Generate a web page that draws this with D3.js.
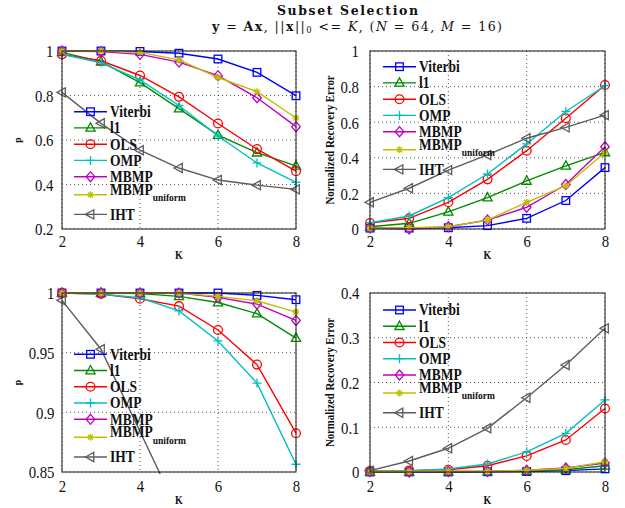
<!DOCTYPE html>
<html><head><meta charset="utf-8">
<script src="https://cdn.jsdelivr.net/npm/d3@7"></script>
<style>body{margin:0;background:#fff}svg{display:block}</style>
</head><body>
<svg id="c" width="625" height="508"></svg>
<script>
// ---------------- data ----------------
const K = [2, 3, 4, 5, 6, 7, 8];
const seriesNames = ["Viterbi", "l1", "OLS", "OMP", "MBMP", "MBMP|uniform", "IHT"];
const xTicks = [2, 4, 6, 8];

// (top-left) success probability p
const viterbiP1 = [1.0, 1.0, 0.998, 0.99, 0.964, 0.904, 0.799];
const l1P1      = [0.994, 0.952, 0.858, 0.741, 0.622, 0.543, 0.484];
const olsP1     = [0.985, 0.956, 0.890, 0.794, 0.674, 0.559, 0.460];
const ompP1     = [0.985, 0.947, 0.870, 0.755, 0.618, 0.497, 0.410];
const mbmpP1    = [1.0, 0.997, 0.985, 0.950, 0.889, 0.790, 0.660];
const mbmpuP1   = [1.0, 1.0, 0.994, 0.960, 0.881, 0.817, 0.699];
const ihtP1     = [0.814, 0.675, 0.554, 0.474, 0.420, 0.397, 0.378];
const yTicksP1 = [0.2, 0.4, 0.6, 0.8, 1];
const yTickLabelsP1 = ["0.2", "0.4", "0.6", "0.8", "1"];

// (top-right) normalized recovery error
const viterbiE1 = [0.005, 0.005, 0.007, 0.019, 0.060, 0.160, 0.345];
const l1E1      = [0.013, 0.032, 0.096, 0.176, 0.270, 0.355, 0.430];
const olsE1     = [0.034, 0.060, 0.150, 0.279, 0.440, 0.622, 0.809];
const ompE1     = [0.035, 0.073, 0.176, 0.309, 0.478, 0.660, 0.805];
const mbmpE1    = [0.005, 0.0, 0.013, 0.050, 0.122, 0.250, 0.462];
const mbmpuE1   = [0.005, 0.008, 0.013, 0.050, 0.150, 0.243, 0.430];
const ihtE1     = [0.150, 0.229, 0.331, 0.416, 0.510, 0.571, 0.640];
const yTicksE1 = [0, 0.2, 0.4, 0.6, 0.8, 1];
const yTickLabelsE1 = ["0", "0.2", "0.4", "0.6", "0.8", "1"];

// (bottom-left) success probability p
const viterbiP2 = [1.0, 1.0, 1.0, 1.0, 1.0, 0.998, 0.9944];
const l1P2      = [1.0, 1.0, 0.9995, 0.9972, 0.992, 0.9827, 0.9622];
const olsP2     = [1.0, 0.9992, 0.9952, 0.989, 0.969, 0.940, 0.8825];
const ompP2     = [1.0, 0.999, 0.996, 0.985, 0.9598, 0.9245, 0.8565];
const mbmpP2    = [1.0, 1.0, 1.0, 0.9999, 0.9963, 0.9907, 0.977];
const mbmpuP2   = [1.0, 1.0, 1.0, 1.0, 0.9972, 0.9935, 0.984];
const ihtP2     = [0.9938, 0.9529, null, 0.815, null, null, null];
const yTicksP2 = [0.85, 0.9, 0.95, 1];
const yTickLabelsP2 = ["0.85", "0.9", "0.95", "1"];

// (bottom-right) normalized recovery error
const viterbiE2 = [0.0, 0.0, 0.0, 0.0005, 0.001, 0.003, 0.007];
const l1E2      = [0.0, 0.0, 0.0005, 0.001, 0.002, 0.005, 0.014];
const olsE2     = [0.002, 0.003, 0.005, 0.014, 0.036, 0.0715, 0.142];
const ompE2     = [0.002, 0.003, 0.0067, 0.018, 0.045, 0.0865, 0.161];
const mbmpE2    = [0.001, 0.0, 0.001, 0.001, 0.004, 0.009, 0.020];
const mbmpuE2   = [0.001, 0.001, 0.002, 0.002, 0.004, 0.008, 0.023];
const ihtE2     = [0.003, 0.0246, 0.053, 0.0976, 0.166, 0.239, 0.321];
const yTicksE2 = [0, 0.1, 0.2, 0.3, 0.4];
const yTickLabelsE2 = ["0", "0.1", "0.2", "0.3", "0.4"];

// ---------------- style ----------------
const colors = ["#0000ff", "#008a00", "#ff0000", "#00bfbf", "#bf00bf", "#bfbf00", "#5c5c5c"];
const markers = ["square", "triUp", "circle", "plus", "diamond", "star", "triLeft"];
const SERIF = "'Liberation Serif','Times New Roman',serif";
const MATH = "'DejaVu Serif',serif";
const S = 1.16; // vertical stretch of text
const legendRowOffsets = [0, 16.2, 32.5, 48.7, 65, 83, 102.7];

const panels = [
  {x0: 62, x1: 296, y0: 51, y1: 229, dom: [0.2, 1], yt: yTicksP1, yl: yTickLabelsP1,
   data: [viterbiP1, l1P1, olsP1, ompP1, mbmpP1, mbmpuP1, ihtP1],
   ylab: "p", ylabX: 20.5, ylabSize: 9.5, tickGap: 8.5, xLabGap: 30, xTickGap: 18, lx: 74, ly: 111.7},
  {x0: 370, x1: 605, y0: 51, y1: 229, dom: [0, 1], yt: yTicksE1, yl: yTickLabelsE1,
   data: [viterbiE1, l1E1, olsE1, ompE1, mbmpE1, mbmpuE1, ihtE1],
   ylab: "Normalized Recovery Error", ylabX: 333.5, ylabSize: 10.8, tickGap: 11, xLabGap: 30, xTickGap: 18, lx: 383, ly: 66.7},
  {x0: 62, x1: 296, y0: 293, y1: 472, dom: [0.85, 1], yt: yTicksP2, yl: yTickLabelsP2,
   data: [viterbiP2, l1P2, olsP2, ompP2, mbmpP2, mbmpuP2, ihtP2],
   ylab: "p", ylabX: 21, ylabSize: 9.5, tickGap: 7.5, xLabGap: 32, xTickGap: 19.5, lx: 74, ly: 354.3},
  {x0: 370, x1: 605, y0: 293, y1: 472, dom: [0, 0.4], yt: yTicksE2, yl: yTickLabelsE2,
   data: [viterbiE2, l1E2, olsE2, ompE2, mbmpE2, mbmpuE2, ihtE2],
   ylab: "Normalized Recovery Error", ylabX: 333.5, ylabSize: 10.8, tickGap: 10.5, xLabGap: 32, xTickGap: 19.5, lx: 383, ly: 310}
];

const svg = d3.select("#c");

function markerPath(type) {
  switch (type) {
    case "triUp": return "M0,-5L4.6,3.3L-4.6,3.3Z";
    case "triLeft": return "M-5,0L3.3,-4.6L3.3,4.6Z";
    case "diamond": return "M0,-5L4.3,0L0,5L-4.3,0Z";
    case "plus": return "M-4.5,0H4.5M0,-4.5V4.5";
    case "star": return "M-3.5,0H3.5M0,-3.5V3.5M-2.6,-2.6L2.6,2.6M-2.6,2.6L2.6,-2.6";
  }
  return null;
}
function drawMarker(g, type, cx, cy, color) {
  if (type === "square") {
    g.append("rect").attr("x", cx - 3.8).attr("y", cy - 3.8).attr("width", 7.6).attr("height", 7.6)
      .attr("fill", "none").attr("stroke", color).attr("stroke-width", 1.3);
  } else if (type === "circle") {
    g.append("circle").attr("cx", cx).attr("cy", cy).attr("r", 4.4)
      .attr("fill", "none").attr("stroke", color).attr("stroke-width", 1.3);
  } else {
    g.append("path").attr("d", markerPath(type)).attr("transform", `translate(${cx},${cy})`)
      .attr("fill", "none").attr("stroke", color).attr("stroke-width", 1.3);
  }
}

// title
svg.append("text").attr("transform", `translate(277,14.5) scale(1,1.05)`)
  .attr("font-family", MATH).attr("font-weight", "bold").attr("font-size", 12.5)
  .attr("textLength", 141).attr("lengthAdjust", "spacing").attr("fill", "#111")
  .text("Subset Selection");
const t2 = svg.append("text").attr("transform", `translate(212,30.5) scale(1,1.05)`)
  .attr("font-family", MATH).attr("font-size", 12.6).attr("fill", "#111")
  .attr("textLength", 290).attr("lengthAdjust", "spacing");
const parts = [
  ["y", "b"], [" = ", ""], ["A", "b"], ["x", "b"], [", ||", ""], ["x", "b"], ["||", ""],
  ["0", "sub"], [" <= ", "unsub"], ["K", "i"], [", (", ""], ["N", "i"], [" = 64, ", ""], ["M", "i"], [" = 16)", ""]
];
parts.forEach(([s, st]) => {
  const ts = t2.append("tspan").text(s);
  if (st === "b") ts.attr("font-weight", "bold");
  if (st === "i") ts.attr("font-style", "italic");
  if (st === "sub") ts.attr("font-size", 8.5).attr("dy", 2);
  if (st === "unsub") ts.attr("dy", -2);
});

panels.forEach((p, pi) => {
  const x = d3.scaleLinear().domain([2, 8]).range([p.x0, p.x1]);
  const y = d3.scaleLinear().domain(p.dom).range([p.y1, p.y0]);
  const g = svg.append("g");
  const clipId = "clip" + pi;
  svg.append("clipPath").attr("id", clipId).append("rect")
    .attr("x", p.x0 - 2).attr("y", p.y0 - 2).attr("width", p.x1 - p.x0 + 4).attr("height", p.y1 - p.y0 + 4);

  // grid
  const grid = g.append("g").attr("stroke", "#444").attr("stroke-width", 0.9).attr("stroke-dasharray", "1,3");
  xTicks.forEach(t => grid.append("line").attr("x1", x(t)).attr("x2", x(t)).attr("y1", p.y0).attr("y2", p.y1));
  p.yt.forEach(t => grid.append("line").attr("x1", p.x0).attr("x2", p.x1).attr("y1", y(t)).attr("y2", y(t)));

  // axes (labels only)
  const xa = g.append("g").attr("transform", `translate(0,${p.y1})`)
    .call(d3.axisBottom(x).tickValues(xTicks).tickSize(0).tickFormat(d3.format("d")));
  xa.select(".domain").remove();
  xa.attr("font-family", SERIF).attr("font-size", 14.8);
  xa.selectAll("text").attr("y", 0).attr("dy", 0).attr("fill", "#111")
    .attr("transform", `translate(0,${p.xTickGap}) scale(1,${S})`);

  const ya = g.append("g").attr("transform", `translate(${p.x0},0)`)
    .call(d3.axisLeft(y).tickValues(p.yt).tickSize(0).tickFormat((d, i) => p.yl[i]));
  ya.select(".domain").remove();
  ya.attr("font-family", SERIF).attr("font-size", 14.8);
  ya.selectAll("text").attr("x", -p.tickGap).attr("y", 0).attr("dy", "0.34em").attr("fill", "#111")
    .attr("transform", `scale(1,${S})`);

  // axis labels
  g.append("text").attr("transform", `translate(${(p.x0 + p.x1) / 2},${p.y1 + p.xLabGap}) scale(1,${S})`)
    .attr("text-anchor", "middle").attr("font-family", SERIF).attr("font-weight", "bold")
    .attr("font-size", 10).attr("fill", "#111").text("K");
  g.append("text").attr("transform", `translate(${p.ylabX},${(p.y0 + p.y1) / 2}) rotate(-90) scale(1,${S})`)
    .attr("text-anchor", "middle").attr("font-family", SERIF).attr("font-weight", "bold")
    .attr("font-size", p.ylabSize).attr("fill", "#111").text(p.ylab);

  // series
  const line = d3.line().x(d => x(d[0])).y(d => y(d[1]));
  p.data.forEach((vals, si) => {
    const pts = K.map((k, i) => [k, vals[i]]).filter(d => d[1] !== null);
    g.append("path").attr("d", line(pts)).attr("fill", "none").attr("stroke", colors[si])
      .attr("stroke-width", 1.4).attr("clip-path", `url(#${clipId})`);
    const mg = g.append("g");
    pts.filter(d => d[1] >= p.dom[0] && d[1] <= p.dom[1])
      .forEach(d => drawMarker(mg, markers[si], x(d[0]), y(d[1]), colors[si]));
  });

  // box
  g.append("rect").attr("x", p.x0).attr("y", p.y0).attr("width", p.x1 - p.x0).attr("height", p.y1 - p.y0)
    .attr("fill", "none").attr("stroke", "#1a1a1a").attr("stroke-width", 1);

  // legend
  const lg = g.append("g");
  seriesNames.forEach((name, si) => {
    const ry = p.ly + legendRowOffsets[si];
    lg.append("line").attr("x1", p.lx).attr("x2", p.lx + 33).attr("y1", ry).attr("y2", ry)
      .attr("stroke", colors[si]).attr("stroke-width", 1.4);
    drawMarker(lg, markers[si], p.lx + 16.5, ry, colors[si]);
    const nameParts = name.split("|");
    const tx = lg.append("text").attr("transform", `translate(${p.lx + 36},${ry}) scale(1,${S})`)
      .attr("font-family", SERIF).attr("font-weight", "bold").attr("font-size", 13.5).attr("fill", "#111");
    if (nameParts.length === 1) {
      tx.attr("dy", "0.34em").text(name);
    } else {
      tx.append("tspan").text(nameParts[0]);
      tx.append("tspan").attr("font-size", 9.5).attr("dy", 5.5).text(nameParts[1]);
    }
  });
});
</script>
</body></html>
